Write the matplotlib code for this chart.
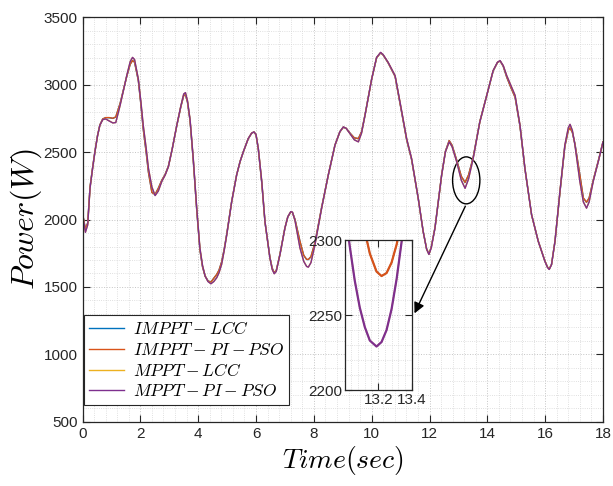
import numpy as np
import matplotlib
matplotlib.use('Agg')
import matplotlib.pyplot as plt
from matplotlib.patches import Ellipse
from matplotlib.ticker import MultipleLocator

plt.rcParams['font.family'] = ['Liberation Sans', 'DejaVu Sans']
plt.rcParams['mathtext.fontset'] = 'cm'

# 时间轴 (s)
t = [0.00, 0.10, 0.18, 0.26, 0.35, 0.43, 0.52, 0.60, 0.70, 0.80, 0.92, 1.05, 1.15, 1.30,
     1.42, 1.53, 1.65, 1.73, 1.80, 1.93, 2.02, 2.10, 2.20, 2.28, 2.40, 2.51, 2.62, 2.74,
     2.86, 2.97, 3.10, 3.26, 3.40, 3.50, 3.56, 3.63, 3.72, 3.83, 3.95, 4.06, 4.15, 4.24,
     4.34, 4.44, 4.54, 4.64, 4.72, 4.81, 4.90, 4.99, 5.16, 5.33, 5.45, 5.56, 5.73, 5.85,
     5.93, 6.00, 6.08, 6.20, 6.31, 6.48, 6.56, 6.63, 6.70, 6.83, 7.00, 7.10, 7.20, 7.26,
     7.35, 7.52, 7.65, 7.75, 7.81, 7.90, 8.04, 8.27, 8.50, 8.73, 8.90, 9.02, 9.12, 9.25,
     9.40, 9.54, 9.65, 9.77, 10.00, 10.17, 10.31, 10.40, 10.57, 10.81, 10.98, 11.21, 11.38,
     11.61, 11.78, 11.90, 11.98, 12.06, 12.19, 12.42, 12.55, 12.68, 12.78, 12.94, 13.10,
     13.23, 13.35, 13.51, 13.74, 13.98, 14.20, 14.35, 14.44, 14.55, 14.67, 14.80, 14.96,
     15.13, 15.30, 15.53, 15.76, 15.99, 16.08, 16.14, 16.22, 16.34, 16.51, 16.68, 16.80,
     16.86, 16.94, 17.03, 17.20, 17.32, 17.43, 17.52, 17.66, 17.85, 18.00]

# MPPT-PI-PSO (W)
p_mppt_pso = [2047, 1905, 1960, 2231, 2380, 2501, 2620, 2698, 2740, 2745, 2730, 2715, 2718, 2845,
              2960, 3066, 3170, 3201, 3185, 3041, 2870, 2698, 2530, 2379, 2240, 2177, 2210, 2281,
              2330, 2391, 2520, 2698, 2840, 2930, 2940, 2880, 2740, 2452, 2084, 1789, 1660, 1581,
              1540, 1524, 1540, 1568, 1605, 1667, 1770, 1888, 2133, 2330, 2430, 2501, 2599, 2640,
              2649, 2630, 2526, 2281, 1986, 1716, 1630, 1598, 1615, 1741, 1937, 2020, 2058, 2055,
              1990, 1789, 1690, 1652, 1647, 1680, 1814, 2084, 2330, 2551, 2650, 2686, 2675, 2636,
              2590, 2575, 2640, 2772, 3041, 3201, 3238, 3220, 3164, 3066, 2870, 2599, 2452,
              2158, 1912, 1780, 1741, 1790, 1937, 2330, 2500, 2575, 2540, 2428, 2290,
              2231, 2300, 2452, 2722, 2919, 3103, 3165, 3177, 3140, 3066, 3000, 2919,
              2698, 2379, 2035, 1839, 1691, 1645, 1630, 1665, 1839, 2207, 2551, 2680,
              2705, 2660, 2551, 2281, 2130, 2084, 2130, 2281, 2440, 2575]

# MPPT-LCC (W)
p_mppt_lcc = [2047, 1906, 1960, 2232, 2380, 2501, 2620, 2698, 2740, 2745, 2731, 2716, 2719, 2845,
              2960, 3066, 3169, 3200, 3184, 3041, 2870, 2698, 2530, 2379, 2241, 2178, 2211, 2281,
              2330, 2391, 2520, 2698, 2840, 2929, 2939, 2880, 2740, 2452, 2084, 1789, 1660, 1582,
              1541, 1525, 1541, 1569, 1605, 1667, 1770, 1888, 2133, 2330, 2430, 2501, 2599, 2640,
              2648, 2630, 2526, 2281, 1986, 1716, 1631, 1599, 1616, 1741, 1937, 2020, 2057, 2054,
              1990, 1790, 1691, 1653, 1648, 1681, 1814, 2084, 2330, 2551, 2650, 2685, 2675, 2636,
              2591, 2576, 2640, 2772, 3041, 3200, 3237, 3219, 3164, 3066, 2870, 2599, 2452,
              2158, 1912, 1781, 1742, 1791, 1937, 2330, 2500, 2574, 2540, 2428, 2291,
              2232, 2301, 2452, 2722, 2919, 3103, 3164, 3176, 3140, 3066, 3000, 2919,
              2698, 2379, 2035, 1839, 1692, 1646, 1631, 1666, 1839, 2207, 2551, 2679,
              2704, 2660, 2551, 2282, 2131, 2085, 2131, 2282, 2440, 2575]

# IMPPT-PI-PSO (W)
p_impt_pso = [2047, 1930, 1975, 2240, 2385, 2505, 2622, 2700, 2745, 2755, 2755, 2750, 2760, 2860,
              2965, 3060, 3150, 3177, 3165, 3030, 2850, 2670, 2500, 2350, 2200, 2185, 2230, 2290,
              2335, 2395, 2520, 2695, 2835, 2918, 2925, 2870, 2730, 2440, 2070, 1775, 1650, 1580,
              1545, 1535, 1565, 1593, 1625, 1685, 1780, 1895, 2135, 2330, 2430, 2500, 2598, 2640,
              2648, 2628, 2520, 2270, 1980, 1720, 1640, 1605, 1622, 1745, 1937, 2020, 2055, 2052,
              2000, 1839, 1735, 1705, 1704, 1725, 1830, 2090, 2330, 2550, 2650, 2684, 2675, 2640,
              2605, 2600, 2650, 2775, 3040, 3198, 3235, 3218, 3160, 3060, 2860, 2590, 2445,
              2155, 1912, 1782, 1745, 1795, 1940, 2330, 2505, 2585, 2550, 2440, 2320,
              2275, 2330, 2460, 2725, 2920, 3100, 3163, 3175, 3135, 3055, 2985, 2905,
              2690, 2375, 2035, 1840, 1693, 1648, 1633, 1668, 1840, 2200, 2540, 2660,
              2678, 2645, 2560, 2330, 2160, 2128, 2160, 2290, 2445, 2575]

# IMPPT-LCC (W)
p_impt_lcc = [2047, 1929, 1975, 2240, 2385, 2505, 2622, 2700, 2745, 2754, 2754, 2749, 2759, 2860,
              2965, 3060, 3151, 3178, 3166, 3030, 2850, 2670, 2500, 2350, 2201, 2186, 2231, 2290,
              2335, 2395, 2520, 2695, 2835, 2919, 2926, 2870, 2730, 2440, 2070, 1775, 1650, 1581,
              1546, 1536, 1565, 1592, 1624, 1685, 1780, 1895, 2135, 2330, 2430, 2500, 2598, 2640,
              2648, 2628, 2520, 2270, 1980, 1720, 1640, 1605, 1622, 1745, 1937, 2020, 2055, 2052,
              2000, 1838, 1734, 1704, 1703, 1724, 1830, 2090, 2330, 2550, 2650, 2684, 2675, 2640,
              2604, 2599, 2650, 2775, 3040, 3198, 3235, 3218, 3160, 3060, 2860, 2590, 2445,
              2155, 1912, 1782, 1745, 1795, 1940, 2330, 2505, 2584, 2550, 2440, 2319,
              2274, 2329, 2460, 2725, 2920, 3100, 3163, 3175, 3135, 3055, 2985, 2905,
              2690, 2375, 2035, 1840, 1693, 1648, 1633, 1668, 1840, 2200, 2540, 2661,
              2679, 2646, 2560, 2329, 2159, 2127, 2159, 2289, 2445, 2575]

# 放大窗口中的数据
t_zoom = [13.00, 13.03, 13.06, 13.09, 13.12, 13.15, 13.19, 13.22, 13.25, 13.28, 13.31, 13.34, 13.37, 13.40]
p_zoom_impt = [2416, 2381, 2351, 2326, 2306, 2291, 2279, 2276, 2278, 2285, 2297, 2314, 2336, 2363]
p_zoom_mppt = [2323, 2296, 2273, 2255, 2242, 2233, 2229, 2232, 2240, 2254, 2274, 2299, 2330, 2366]

labels = ['$IMPPT-LCC$', '$IMPPT-PI-PSO$', '$MPPT-LCC$', '$MPPT-PI-PSO$']
colors = ['#0072BD', '#D95319', '#EDB120', '#7E2F8E']
series = [p_impt_lcc, p_impt_pso, p_mppt_lcc, p_mppt_pso]

axis_color = '#262626'


def style_axes(ax, fsize):
    ax.tick_params(which='both', direction='in', top=True, right=True,
                   colors=axis_color, labelsize=fsize)
    ax.tick_params(which='major', length=5, width=0.8)
    ax.tick_params(which='minor', length=0)
    for s in ax.spines.values():
        s.set_color(axis_color)
        s.set_linewidth(0.9)
    ax.grid(which='major', linestyle=':', color='#c4c4c4', linewidth=0.7)
    ax.grid(which='minor', linestyle=':', color='#d6d6d6', linewidth=0.6)
    ax.set_axisbelow(True)


fig = plt.figure(figsize=(6.13, 4.86), dpi=100)
ax = fig.add_axes([0.1346, 0.1317, 0.8491, 0.8333])

for p, c, lab in zip(series, colors, labels):
    ax.plot(t, p, color=c, linewidth=1.0, label=lab)

ax.set_xlim(0, 18)
ax.set_ylim(500, 3500)
ax.xaxis.set_major_locator(MultipleLocator(2))
ax.xaxis.set_minor_locator(MultipleLocator(0.4))
ax.yaxis.set_major_locator(MultipleLocator(500))
ax.yaxis.set_minor_locator(MultipleLocator(100))
style_axes(ax, 11)

ax.set_xlabel('$Time(sec)$', fontsize=20, labelpad=2)
ax.set_ylabel('$Power(W)$', fontsize=23, labelpad=0)

leg = ax.legend(loc='lower left', bbox_to_anchor=(0.003, 0.043), fontsize=12.5,
                frameon=True, fancybox=False, framealpha=1, edgecolor=axis_color,
                handlelength=2.0, borderpad=0.3, labelspacing=0.25, handletextpad=0.5,
                borderaxespad=0)
leg.get_frame().set_linewidth(0.8)

# 圈出放大区域
ax.add_patch(Ellipse((13.27, 2290), 0.944, 348, fill=False, edgecolor='black', linewidth=1.0))
ax.annotate('', xy=(11.44, 1286), xytext=(13.28, 2117),
            arrowprops=dict(arrowstyle='-|>', color='black', lw=1.0, mutation_scale=16))

# 放大子图
axins = fig.add_axes([0.5623, 0.1975, 0.1093, 0.3086])
axins.plot(t_zoom, p_zoom_impt, color=colors[0], linewidth=1.0)
axins.plot(t_zoom, p_zoom_impt, color=colors[1], linewidth=1.6)
axins.plot(t_zoom, p_zoom_mppt, color=colors[2], linewidth=1.0)
axins.plot(t_zoom, p_zoom_mppt, color=colors[3], linewidth=1.6)
axins.set_xlim(13.0, 13.4)
axins.set_ylim(2200, 2300)
axins.set_xticks([13.2, 13.4])
axins.set_yticks([2200, 2250, 2300])
axins.xaxis.set_minor_locator(MultipleLocator(0.04))
axins.yaxis.set_minor_locator(MultipleLocator(10))
style_axes(axins, 11)
axins.tick_params(pad=2)

fig.savefig('out.png', dpi=100)
